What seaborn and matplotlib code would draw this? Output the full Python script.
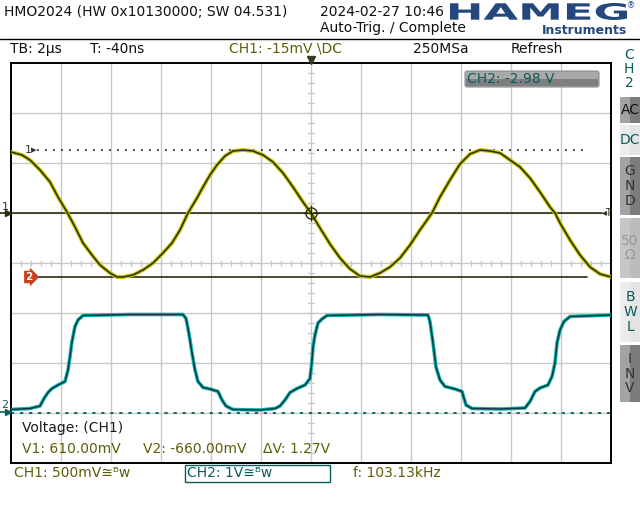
import numpy as np
import matplotlib
matplotlib.use("Agg")
import matplotlib.pyplot as plt
import seaborn as sns
from matplotlib.patches import Rectangle, FancyBboxPatch, PathPatch
from matplotlib.lines import Line2D
from matplotlib.textpath import TextPath
from matplotlib.font_manager import FontProperties
from matplotlib.transforms import Affine2D

sns.set_theme(style="white")
plt.rcParams["font.family"] = ["DejaVu Sans"]

# ── Trace data (time in µs, volts vs. channel ground) ─────────────────────────
CH1_T = [-12.0, -11.56, -11.24, -10.84, -10.44, -10.12, -9.76, -9.44, -9.12, -8.76,
         -8.44, -8.04, -7.76, -7.52, -7.12, -6.72, -6.32, -5.92, -5.56, -5.24,
         -4.92, -4.56, -4.32, -4.04, -3.76, -3.44, -3.12, -2.72, -2.32, -1.92,
         -1.52, -1.12, -0.72, -0.32, 0.0, 0.36, 0.76, 1.16, 1.56, 1.96,
         2.36, 2.76, 3.16, 3.56, 3.96, 4.36, 4.84, 5.16, 5.56, 5.96,
         6.36, 6.76, 7.16, 7.56, 7.96, 8.36, 8.76, 9.16, 9.56, 9.76,
         9.96, 10.36, 10.76, 11.16, 11.56, 12.0]
CH1_V = [0.59, 0.56, 0.51, 0.41, 0.29, 0.14, -0.01, -0.16, -0.32, -0.44,
         -0.54, -0.62, -0.66, -0.66, -0.64, -0.59, -0.52, -0.42, -0.32, -0.19,
         -0.02, 0.13, 0.24, 0.36, 0.46, 0.55, 0.60, 0.61, 0.60, 0.56,
         0.49, 0.38, 0.24, 0.09, -0.02, -0.17, -0.33, -0.47, -0.58, -0.65,
         -0.66, -0.62, -0.56, -0.47, -0.34, -0.19, -0.02, 0.14, 0.31, 0.47,
         0.57, 0.61, 0.60, 0.58, 0.51, 0.44, 0.33, 0.19, 0.04, -0.02,
         -0.12, -0.29, -0.44, -0.56, -0.63, -0.66]

CH2_T = [-12.0, -11.24, -10.84, -10.68, -10.52, -10.36, -10.12, -9.84, -9.72, -9.64,
         -9.56, -9.44, -9.32, -9.12, -7.24, -5.12, -5.0, -4.92, -4.84, -4.76,
         -4.64, -4.52, -4.32, -4.04, -3.72, -3.56, -3.40, -3.12, -2.04, -1.44,
         -1.24, -1.04, -0.84, -0.56, -0.24, -0.04, 0.03, 0.08, 0.16, 0.28,
         0.44, 0.64, 2.76, 4.68, 4.76, 4.88, 5.0, 5.16, 5.36, 5.76,
         6.04, 6.2, 6.44, 7.56, 8.56, 8.76, 8.96, 9.16, 9.48, 9.64,
         9.76, 9.84, 9.96, 10.12, 10.36, 12.0]
CH2_V = [0.07, 0.09, 0.14, 0.29, 0.41, 0.49, 0.56, 0.63, 0.86, 1.13,
         1.43, 1.73, 1.86, 1.95, 1.97, 1.97, 1.89, 1.69, 1.46, 1.20,
         0.86, 0.63, 0.51, 0.48, 0.43, 0.26, 0.14, 0.07, 0.06, 0.09,
         0.14, 0.26, 0.41, 0.49, 0.56, 0.69, 1.00, 1.32, 1.56, 1.80,
         1.88, 1.95, 1.97, 1.96, 1.82, 1.40, 0.92, 0.66, 0.53, 0.48,
         0.43, 0.16, 0.09, 0.08, 0.10, 0.23, 0.43, 0.50, 0.56, 0.73,
         1.00, 1.40, 1.66, 1.83, 1.93, 1.96]

# ── Scope settings ────────────────────────────────────────────────────────────
CH1_VDIV, CH2_VDIV = 0.5, 1.0      # V/div
CH1_POS, CH2_POS = 1.04, -3.0      # ground position in divisions
TRIG_LEVEL = -0.015                # V on CH1
CURSOR_V1, CURSOR_V2 = 0.61, -0.66

OLIVE = "#5e5e08"
TEAL = "#0b5c5c"
DARK1 = "#2c2c12"
GRID = "#c8c8c8"

W, H = 640, 520
fig = plt.figure(figsize=(6.4, 5.2), dpi=100)
fig.patch.set_facecolor("white")


def fx(x):
    return x / W


def fy(y):
    return 1 - y / H


def ftext(x, y, s, **kw):
    kw.setdefault("va", "center")
    kw.setdefault("fontsize", 10)
    fig.text(fx(x), fy(y), s, **kw)


def frect(x0, y0, x1, y1, **kw):
    fig.add_artist(Rectangle((fx(x0), fy(y1)), (x1 - x0) / W, (y1 - y0) / H,
                             transform=fig.transFigure, **kw))


def fline(xs, ys, **kw):
    fig.add_artist(Line2D([fx(x) for x in xs], [fy(y) for y in ys],
                          transform=fig.transFigure, **kw))


# ── Graticule ─────────────────────────────────────────────────────────────────
ax = fig.add_axes([11 / W, 57 / H, 600 / W, 400 / H])
ax.set_xlim(-12, 12)
ax.set_ylim(-4, 4)
ax.set_xticks([])
ax.set_yticks([])
ax.set_facecolor("white")
for s in ax.spines.values():
    s.set_color("black")
    s.set_linewidth(1.4)

for t in range(-10, 11, 2):
    ax.axvline(t, color=GRID, lw=1, zorder=0)
for d in range(-3, 4):
    ax.axhline(d, color=GRID, lw=1, zorder=0)
for d in np.arange(-3.8, 3.81, 0.2):
    ax.plot([-0.13, 0.13], [d, d], color=GRID, lw=1, zorder=0)
for t in np.arange(-11.6, 11.61, 0.4):
    ax.plot([t, t], [-0.05, 0.05], color=GRID, lw=1, zorder=0)

d_trig = CH1_POS + TRIG_LEVEL / CH1_VDIV
d_c1 = CH1_POS + CURSOR_V1 / CH1_VDIV
d_c2 = CH1_POS + CURSOR_V2 / CH1_VDIV

# reference lines
ax.plot([-12, 11.62], [d_trig, d_trig], color=DARK1, lw=1.2, zorder=2)
ax.text(11.62, d_trig, "◂T", fontsize=7, color=DARK1, va="center", ha="left")
ax.plot([-10.98, 10.96], [d_c1, d_c1], color="#333333", lw=1.2,
        dashes=(1.2, 3.6), zorder=2)
ax.plot([-10.98, 11.04], [d_c2, d_c2], color=DARK1, lw=1.2, zorder=2)
ax.plot([-12, 12], [CH2_POS, CH2_POS], color=TEAL, lw=1.3,
        dashes=(1.8, 3.2), zorder=2)

# ── Traces ────────────────────────────────────────────────────────────────────
ch1_div = [CH1_POS + v / CH1_VDIV for v in CH1_V]
ch2_div = [CH2_POS + v / CH2_VDIV for v in CH2_V]
line_kw = dict(estimator=None, sort=False, solid_joinstyle="round")
sns.lineplot(x=CH1_T, y=ch1_div, ax=ax, color="#c4c400", linewidth=2.8, zorder=3, **line_kw)
sns.lineplot(x=CH1_T, y=ch1_div, ax=ax, color=DARK1, linewidth=1.1, zorder=4, **line_kw)
sns.lineplot(x=CH2_T, y=ch2_div, ax=ax, color="#13b5b5", linewidth=2.6, zorder=3, **line_kw)
sns.lineplot(x=CH2_T, y=ch2_div, ax=ax, color="#0a3b3b", linewidth=1.1, zorder=4, **line_kw)

# trigger point & markers
ax.plot(0, d_trig, marker="o", mfc="none", mec=DARK1, ms=8, mew=1, zorder=5)
ax.plot(0, d_trig, marker="+", color=DARK1, ms=11, mew=0.9, zorder=5)
ax.plot(0, 4.07, marker="v", color="#3a3a22", ms=6, clip_on=False, zorder=6)
ax.text(-10.96, d_c1, "1▸", fontsize=8, color="#333333", ha="right", va="center")
ax.text(-11.28, d_c2, "2", fontsize=7.5, color="white", fontweight="bold",
        ha="center", va="center",
        bbox=dict(boxstyle="rarrow,pad=0.12", fc="#c8401a", ec="none"))

# voltage cursor read-out
ax.text(-11.56, -3.3, "Voltage: (CH1)", fontsize=10, color="#1a1a1a", va="center")
ax.text(-11.56, -3.72, f"V1: {CURSOR_V1 * 1000:.2f}mV", fontsize=10, color=OLIVE, va="center")
ax.text(-6.72, -3.72, f"V2: {CURSOR_V2 * 1000:.2f}mV", fontsize=10, color=OLIVE, va="center")
ax.text(-1.92, -3.72, f"ΔV: {CURSOR_V1 - CURSOR_V2:.2f}V", fontsize=10, color=OLIVE, va="center")

# channel markers left of graticule
ftext(5, 207, "1", fontsize=8, color=DARK1, ha="center")
fline([0, 8], [213, 213], color=DARK1, lw=1.2)
fline([8], [213], marker=">", ms=4, color=DARK1)
ftext(5, 405, "2", fontsize=8, color=TEAL, ha="center")
fline([0, 8], [412, 412], color=TEAL, lw=1.2)
fline([8], [412], marker=">", ms=4, color=TEAL)

# ── Header ────────────────────────────────────────────────────────────────────
ftext(4, 12, "HMO2024 (HW 0x10130000; SW 04.531)", color="#111111")
ftext(320, 12, "2024-02-27 10:46", color="#111111")
ftext(320, 28, "Auto-Trig. / Complete", color="#111111")

logo = TextPath((0, 0), "HAMEG", size=1, prop=FontProperties(family="DejaVu Sans", weight="bold"))
ext = logo.get_extents()
sx = (627 - 450) / ext.width
sy = 17 / ext.height
tr = Affine2D().translate(-ext.x0, -ext.y0).scale(sx / W, sy / H).translate(fx(450), fy(20)) + fig.transFigure
fig.add_artist(PathPatch(logo, transform=tr, fc="#24487e", ec="none"))
ftext(631, 6, "®", fontsize=6, color="#24487e", ha="center")
ftext(627, 31, "Instruments", fontsize=9, fontweight="bold", color="#24487e", ha="right")
fline([0, 640], [39, 39], color="black", lw=1)

ftext(10, 49, "TB: 2µs", color="#111111")
ftext(90, 49, "T: -40ns", color="#111111")
ftext(229, 49, "CH1: -15mV \\DC", color=OLIVE)
ftext(413, 49, "250MSa", color="#111111")
ftext(511, 49, "Refresh", color="#111111")

# CH2 offset box
fig.add_artist(FancyBboxPatch((fx(465), fy(87)), 134 / W, 16 / H,
                              boxstyle="round,pad=0,rounding_size=0.004",
                              transform=fig.transFigure, fc="#a9a9a9", ec="#8c8c8c", lw=0.8))
frect(466, 79, 598, 86, fc="#7f7f7f", ec="none")
ftext(467, 79, "CH2: -2.98 V", color=TEAL)

# ── Right-hand soft-key menu ──────────────────────────────────────────────────
for i, ch in enumerate("CH2"):
    ftext(629, 55 + 14 * i, ch, color=TEAL, ha="center")


def button(y0, y1, light, dark, label, tcolor, hatch=None):
    frect(620, y0, 630, y1, fc=light, ec="none")
    frect(630, y0, 640, y1, fc=dark, ec="none", hatch=hatch)
    ftext(630, (y0 + y1) / 2, label, color=tcolor, ha="center", linespacing=1.05)


button(97, 123, "#a3a3a3", "#7c7c7c", "AC", "#111111")
button(125, 155, "#ececec", "#e4e4e4", "DC", TEAL)
button(157, 215, "#a3a3a3", "#7c7c7c", "G\nN\nD", "#333333")
button(218, 278, "#c6c6c6", "#bcbcbc", "50\nΩ", "#9a9a9a")
button(282, 342, "#ececec", "#e4e4e4", "B\nW\nL", TEAL)
button(345, 402, "#a3a3a3", "#7c7c7c", "I\nN\nV", "#333333")

# ── Bottom status line ────────────────────────────────────────────────────────
ftext(14, 473, "CH1: 500mV≅ᴮw", color=OLIVE)
frect(185, 465, 330, 482, fc="none", ec=TEAL, lw=1)
ftext(187, 473, "CH2: 1V≅ᴮw", color=TEAL)
ftext(353, 473, "f: 103.13kHz", color=OLIVE)

fig.savefig("out.png", dpi=100)
